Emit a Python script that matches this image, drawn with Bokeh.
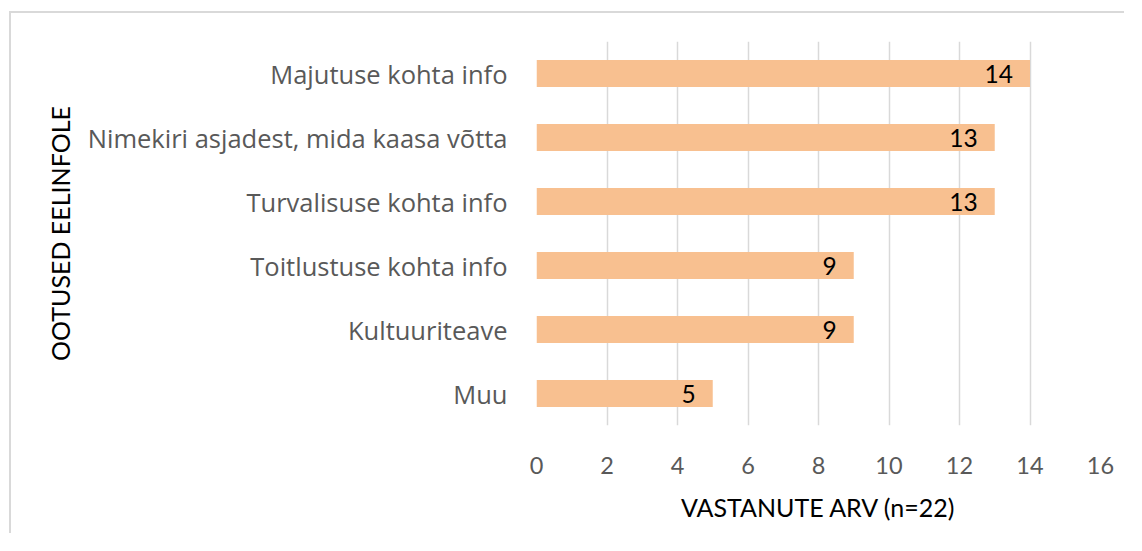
from bokeh.plotting import figure
from bokeh.models import ColumnDataSource, Range1d, FixedTicker
from bokeh.core.properties import value
from bokeh.embed import file_html
from bokeh.resources import INLINE

# Data (bottom to top)
categories = ["Muu", "Kultuuriteave", "Toitlustuse kohta info",
              "Turvalisuse kohta info", "Nimekiri asjadest, mida kaasa võtta",
              "Majutuse kohta info"]
counts = [5, 9, 9, 13, 13, 14]
x_ticks = [0, 2, 4, 6, 8, 10, 12, 14, 16]
x_title = "VASTANUTE ARV (n=22)"
y_title = "OOTUSED EELINFOLE"

FONT = "Lato"
CAT_FONT = "Open Sans"
BAR = "#F8C090"

src = ColumnDataSource(dict(cat=categories, val=counts, lab=[str(v) for v in counts]))

p = figure(width=1115, height=522, y_range=categories, x_range=Range1d(0, 16),
           output_backend="svg", toolbar_location=None,
           min_border_left=525, min_border_right=26,
           min_border_top=28, min_border_bottom=110)
p.styles = {"margin-left": "9px", "margin-top": "11px",
            "border-left": "2px solid #D9D9D9", "border-top": "2px solid #D9D9D9"}

p.hbar(y="cat", right="val", left=0, height=0.42, source=src,
       fill_color=BAR, line_color=None)

p.text(x="val", y="cat", text="lab", source=src, text_align="right",
       text_baseline="middle", x_offset=-17, text_color="#000000",
       text_font=value(FONT), text_font_size="24.5px")

p.outline_line_color = None
p.ygrid.grid_line_color = None
p.xgrid.grid_line_color = "#D9D9D9"
p.xgrid.grid_line_width = 1.5

xa = p.xaxis[0]
xa.ticker = FixedTicker(ticks=x_ticks)
xa.axis_line_color = None
xa.major_tick_line_color = None
xa.minor_tick_line_color = None
xa.major_tick_out = 0
xa.major_label_standoff = 31
xa.major_label_text_font = FONT
xa.major_label_text_font_size = "23.5px"
xa.major_label_text_color = "#595959"
xa.axis_label = x_title
xa.axis_label_text_font = FONT
xa.axis_label_text_font_size = "25px"
xa.axis_label_text_font_style = "normal"
xa.axis_label_text_color = "#000000"
xa.axis_label_standoff = 15

ya = p.yaxis[0]
ya.axis_line_color = None
ya.major_tick_line_color = None
ya.minor_tick_line_color = None
ya.major_tick_out = 0
ya.major_label_standoff = 29
ya.major_label_text_font = CAT_FONT
ya.major_label_text_font_size = "25.5px"
ya.major_label_text_color = "#595959"
ya.axis_label = y_title
ya.axis_label_text_font = FONT
ya.axis_label_text_font_size = "25px"
ya.axis_label_text_font_style = "normal"
ya.axis_label_text_color = "#000000"
ya.axis_label_standoff = 10

open("out.html", "w").write(file_html(p, INLINE))
